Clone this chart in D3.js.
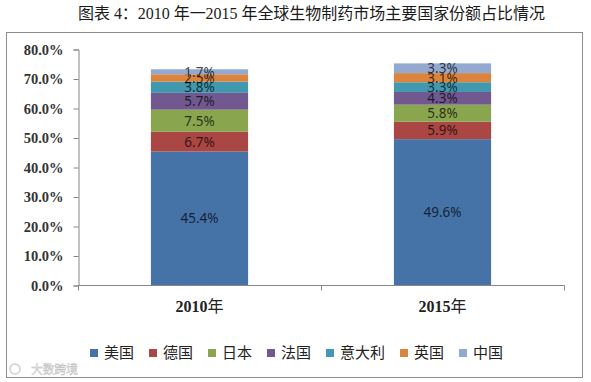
<!DOCTYPE html>
<html>
<head>
<meta charset="utf-8">
<style>
html, body { margin: 0; padding: 0; background: #fff; }
svg { display: block; }
text { font-family: "Liberation Serif", "Noto Sans CJK SC", serif; }
</style>
<script src="https://cdn.jsdelivr.net/npm/d3@7"></script>
</head>
<body>
<div id="chart"></div>
<script>
var years = ["2010年", "2015年"];
var countries = ["美国", "德国", "日本", "法国", "意大利", "英国", "中国"];
var colors = ["#4572a7", "#aa4643", "#89a54e", "#71588f", "#4198af", "#db843d", "#93a9cf"];
var values2010 = [45.4, 6.7, 7.5, 5.7, 3.8, 2.5, 1.7];
var values2015 = [49.6, 5.9, 5.8, 4.3, 3.3, 3.1, 3.3];
var yTicks = [0, 10, 20, 30, 40, 50, 60, 70, 80];
var titleText = "图表 4：2010 年一2015 年全球生物制药市场主要国家份额占比情况";
var watermark = "大数跨境";

var width = 591, height = 382;
var svg = d3.select("#chart").append("svg").attr("width", width).attr("height", height);

// chart frame
svg.append("rect")
    .attr("x", 6.5).attr("y", 32.5)
    .attr("width", 576).attr("height", 345)
    .attr("fill", "#fff").attr("stroke", "#8c8c8c").attr("stroke-width", 1);

svg.append("text")
    .attr("x", 78).attr("y", 18.5)
    .attr("textLength", 467)
    .attr("font-size", 16)
    .attr("fill", "#1a1a1a")
    .text(titleText);

var x = d3.scaleBand().domain(years).range([78, 564]).paddingInner(0.6).paddingOuter(0.3);
var y = d3.scaleLinear().domain([0, 80]).range([285.5, 49.5]);

var rows = years.map(function (year, i) {
    var row = { year: year };
    var source = i === 0 ? values2010 : values2015;
    countries.forEach(function (c, j) { row[c] = source[j]; });
    return row;
});
var stacked = d3.stack().keys(countries)(rows);

// bars
var layers = svg.append("g").selectAll("g").data(stacked).join("g")
    .attr("fill", function (d, i) { return colors[i]; });

layers.selectAll("rect").data(function (d) { return d; }).join("rect")
    .attr("x", function (d) { return x(d.data.year); })
    .attr("y", function (d) { return y(d[1]); })
    .attr("width", x.bandwidth())
    .attr("height", function (d) { return y(d[0]) - y(d[1]); });

// axes
var yAxis = svg.append("g").attr("transform", "translate(78.5,0)")
    .call(d3.axisLeft(y).tickValues(yTicks).tickSize(5).tickPadding(10)
        .tickFormat(function (d) { return d.toFixed(1) + "%"; }));
yAxis.selectAll("text")
    .style("font-family", "'Liberation Serif', serif")
    .attr("font-size", 14.5).attr("font-weight", "bold").attr("fill", "#333");

var xAxis = svg.append("g").attr("transform", "translate(0,285.5)")
    .call(d3.axisBottom(x).tickSize(0).tickPadding(15));
// digits are bold, the 年 is not
xAxis.selectAll("text").each(function (d) {
    var label = d3.select(this).text("").attr("font-size", 16).attr("fill", "#222");
    label.append("tspan").attr("font-weight", "bold").text(d.slice(0, 4));
    label.append("tspan").text(d.slice(4));
});
// the category axis has its ticks between the bars
xAxis.selectAll(".sep").data([78, 321, 564]).join("line")
    .attr("class", "sep")
    .attr("x1", function (d) { return d + 0.5; }).attr("x2", function (d) { return d + 0.5; })
    .attr("y1", 0).attr("y2", 5);
xAxis.select(".domain").attr("d", "M78.5,0H564.5");

svg.selectAll(".domain, .tick line, .sep").attr("stroke", "#868686");

// data labels
layers.selectAll("text").data(function (d) { return d; }).join("text")
    .attr("x", function (d) { return x(d.data.year) + x.bandwidth() / 2; })
    .attr("y", function (d) { return (y(d[0]) + y(d[1])) / 2; })
    .attr("dy", "0.36em")
    .attr("text-anchor", "middle")
    .attr("font-size", 13.5)
    .attr("fill", "#000")
    .attr("fill-opacity", 0.72)
    .style("font-family", "'Noto Sans', sans-serif")
    .text(function (d) { return (d[1] - d[0]).toFixed(1) + "%"; });

// legend
var legendX = 90;
countries.forEach(function (name, i) {
    var item = svg.append("g").attr("transform", "translate(" + legendX + ",353)");
    item.append("rect")
        .attr("x", 0).attr("y", -4)
        .attr("width", 8).attr("height", 8)
        .attr("fill", colors[i]);
    item.append("text")
        .attr("x", 14).attr("dy", "0.36em")
        .attr("font-size", 15).attr("fill", "#222")
        .text(name);
    legendX += name.length * 15 + 29;
});

// faint source mark, bottom left
svg.append("text")
    .attr("x", 31).attr("y", 374)
    .attr("textLength", 47)
    .attr("font-size", 12)
    .attr("fill", "#ececec").attr("stroke", "#bdbdbd").attr("stroke-width", 0.4)
    .text(watermark);
svg.append("circle")
    .attr("cx", 15).attr("cy", 369).attr("r", 5)
    .attr("fill", "none").attr("stroke", "#d0d0d0").attr("stroke-width", 1.5);
</script>
</body>
</html>
